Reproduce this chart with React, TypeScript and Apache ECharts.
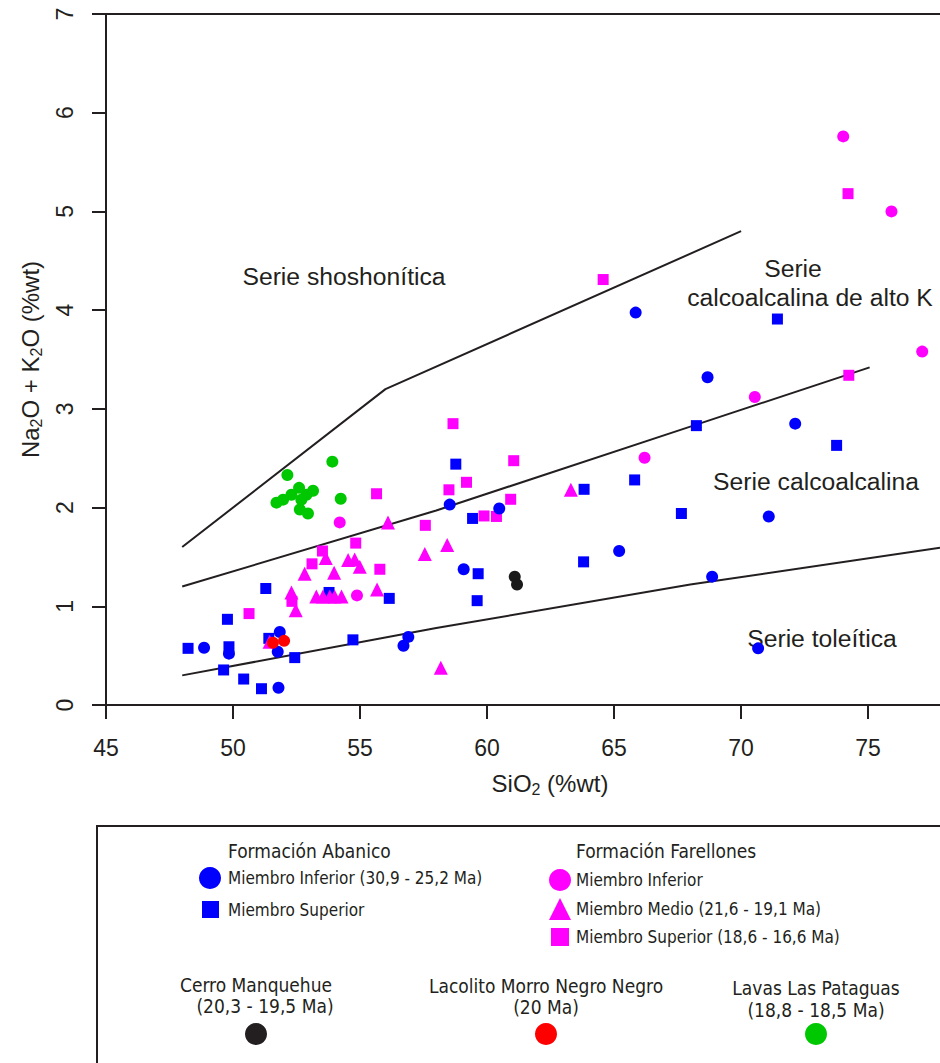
import React, { useEffect, useRef } from "react";
import * as echarts from "echarts";

const FONT = '"Liberation Sans", Arial, sans-serif';
const LFONT = '"DejaVu Sans Condensed", "Liberation Sans Narrow", sans-serif';
const INK = "#231f20";

const xTicks = [45, 50, 55, 60, 65, 70, 75];
const yTicks = [0, 1, 2, 3, 4, 5, 6, 7];

// Boundary lines [SiO2, Na2O+K2O]
const lineShoshonitic = [[48, 1.6], [56, 3.2], [70, 4.8]];
const lineHighK = [[48, 1.2], [58, 1.97], [68, 2.82], [75.06, 3.42]];
const lineTholeiitic = [[48, 0.3], [58, 0.78], [68, 1.22], [77.83, 1.594]];

// Formación Abanico
const abanicoInferior = [
  [48.86, 0.58], [49.84, 0.52], [51.84, 0.74], [51.76, 0.54], [51.79, 0.175],
  [56.71, 0.6], [56.9, 0.69], [58.53, 2.03], [60.48, 1.99], [59.08, 1.375],
  [65.2, 1.56], [65.85, 3.975], [68.68, 3.32], [72.13, 2.85], [71.09, 1.91],
  [68.86, 1.3], [70.67, 0.574],
];
const abanicoSuperior = [
  [48.23, 0.574], [49.78, 0.868], [49.84, 0.59], [49.63, 0.355], [50.42, 0.263],
  [51.12, 0.165], [51.29, 1.18], [51.41, 0.675], [52.43, 0.48], [54.72, 0.66],
  [56.15, 1.08], [53.78, 1.14], [58.77, 2.44], [59.43, 1.89], [59.65, 1.33],
  [59.61, 1.057], [63.82, 2.185], [63.8, 1.45], [65.81, 2.28], [67.65, 1.94],
  [68.24, 2.83], [71.43, 3.91], [73.76, 2.63],
];

// Formación Farellones
const farellonesInferior = [
  [54.2, 1.85], [54.88, 1.11], [66.2, 2.505], [70.54, 3.12], [77.13, 3.58],
  [74.02, 5.76], [75.92, 5.0],
];
const farellonesMedio = [
  [56.1, 1.85], [58.43, 1.62], [57.55, 1.53], [52.82, 1.33], [53.65, 1.49],
  [53.98, 1.34], [54.53, 1.47], [54.79, 1.475], [54.99, 1.4], [52.3, 1.14],
  [52.47, 0.96], [53.28, 1.1], [53.54, 1.1], [53.81, 1.1], [54.0, 1.1],
  [54.27, 1.1], [55.67, 1.17], [58.18, 0.378], [51.44, 0.64], [63.3, 2.18],
];
const farellonesSuperior = [
  [58.66, 2.85], [58.5, 2.18], [55.65, 2.14], [57.57, 1.82], [54.83, 1.64],
  [53.52, 1.56], [53.11, 1.43], [55.78, 1.375], [52.32, 1.05], [50.63, 0.926],
  [59.19, 2.256], [61.05, 2.475], [60.93, 2.084], [59.88, 1.915], [60.37, 1.91],
  [74.24, 3.34], [74.21, 5.18], [64.57, 4.31],
];

const cerroManquehue = [[61.09, 1.3], [61.18, 1.22]];
const lacolitoMorroNegro = [[51.57, 0.63], [52.01, 0.65]];
const lavasPataguas = [
  [52.14, 2.33], [53.91, 2.465], [54.24, 2.09], [51.71, 2.05], [51.97, 2.08],
  [52.3, 2.13], [52.6, 2.2], [52.89, 2.13], [53.15, 2.17], [52.69, 2.08],
  [52.63, 1.98], [52.95, 1.94],
];

const BLUE = "#0000ff";
const PINK = "#ff00ff";
const GREEN = "#00c800";
const RED = "#ff0000";
const BLACK = "#1a1a1a";

const lineSeries = (data: number[][]) => ({
  type: "line",
  data,
  symbol: "none",
  silent: true,
  lineStyle: { color: INK, width: 2 },
  z: 1,
});

const scatter = (name: string, data: number[][], symbol: string, size: number, color: string) => ({
  type: "scatter",
  name,
  data,
  symbol,
  symbolSize: size,
  itemStyle: { color, opacity: 1 },
  z: 3,
});

const legendItem = (name: string, icon: string, left: number, top: number, size: number, pad: number) => ({
  data: [{ name, icon }],
  left,
  top,
  padding: 0,
  itemWidth: size,
  itemHeight: size,
  selectedMode: false,
  textStyle: { fontFamily: LFONT, fontSize: 17, color: INK, padding: [0, 0, 0, pad] },
});

const axisTitleRich = {
  a: { fontFamily: FONT, fontSize: 24, color: INK, lineHeight: 28 },
  s: { fontFamily: FONT, fontSize: 16, color: INK, lineHeight: 17, verticalAlign: "bottom" },
};

export default function App() {
  const ref = useRef<HTMLDivElement>(null);
  useEffect(() => {
    if (!ref.current) return;
    const chart = echarts.init(ref.current, undefined, { renderer: "svg" });
    const txt = (text: string, x: number, y: number, size: number, font = FONT, align = "center") => ({
      type: "text",
      x,
      y,
      style: { text, fontFamily: font, fontSize: size, fill: INK, align, verticalAlign: "middle" },
    });
    chart.setOption({
      animation: false,
      backgroundColor: "#ffffff",
      grid: { left: 106, right: 0, top: 14, bottom: 358, containLabel: false },
      xAxis: [
        {
          type: "value",
          min: 45,
          max: 77.83,
          interval: 5,
          name: "{a|SiO}{s|2}{a| (%wt)}",
          nameLocation: "middle",
          nameGap: 64,
          nameTextStyle: { rich: axisTitleRich, padding: [0, 0, 0, 54] },
          axisLine: { show: true, lineStyle: { color: INK, width: 2 } },
          axisTick: { show: true, inside: false, length: 14, lineStyle: { color: INK, width: 2 }, customValues: xTicks },
          axisLabel: {
            customValues: xTicks,
            margin: 31,
            fontFamily: FONT,
            fontSize: 23,
            color: INK,
            formatter: (v: number) => (xTicks.includes(v) ? String(v) : ""),
          },
          splitLine: { show: false },
        },
        {
          type: "value",
          position: "top",
          min: 45,
          max: 77.83,
          axisLine: { show: true, lineStyle: { color: INK, width: 2 } },
          axisTick: { show: false },
          axisLabel: { show: false },
          splitLine: { show: false },
        },
      ],
      yAxis: {
        type: "value",
        min: 0,
        max: 7,
        interval: 1,
        name: "{a|Na}{s|2}{a|O + K}{s|2}{a|O (%wt)}",
        nameLocation: "middle",
        nameRotate: 90,
        nameGap: 62,
        nameTextStyle: { rich: axisTitleRich },
        axisLine: { show: true, lineStyle: { color: INK, width: 2 } },
        axisTick: { show: true, inside: false, length: 14, lineStyle: { color: INK, width: 2 } },
        axisLabel: {
          rotate: 90,
          margin: 30,
          fontFamily: FONT,
          fontSize: 23,
          color: INK,
          formatter: (v: number) => (yTicks.includes(v) ? String(v) : ""),
        },
        splitLine: { show: false },
      },
      legend: [
        legendItem("Miembro Inferior (30,9 - 25,2 Ma)", "circle", 199, 867, 22, 2),
        legendItem("Miembro Superior", "rect", 202, 901, 17, 4),
        legendItem("Miembro Inferior", "circle", 549, 869, 22, 0),
        legendItem("Miembro Medio (21,6 - 19,1 Ma)", "triangle", 549, 898, 22, 0),
        legendItem("Miembro Superior (18,6 - 16,6 Ma)", "rect", 551, 928, 18, 2),
      ],
      series: [
        lineSeries(lineShoshonitic),
        lineSeries(lineHighK),
        lineSeries(lineTholeiitic),
        scatter("Miembro Superior", abanicoSuperior, "rect", 11, BLUE),
        scatter("Miembro Medio (21,6 - 19,1 Ma)", farellonesMedio, "triangle", 14, PINK),
        scatter("Miembro Superior (18,6 - 16,6 Ma)", farellonesSuperior, "rect", 11, PINK),
        scatter("Miembro Inferior", farellonesInferior, "circle", 12, PINK),
        scatter("Miembro Inferior (30,9 - 25,2 Ma)", abanicoInferior, "circle", 12, BLUE),
        scatter("Lacolito Morro Negro Negro", lacolitoMorroNegro, "circle", 12, RED),
        scatter("Cerro Manquehue", cerroManquehue, "circle", 12, BLACK),
        scatter("Lavas Las Pataguas", lavasPataguas, "circle", 12, GREEN),
      ],
      graphic: [
        txt("Serie shoshonítica", 344, 276, 24.7),
        txt("Serie", 793, 268, 24.7),
        txt("calcoalcalina de alto K", 810, 297, 24.7),
        txt("Serie calcoalcalina", 816, 481, 24.7),
        txt("Serie toleítica", 822, 638, 24.7),
        {
          type: "rect",
          shape: { x: 97, y: 826, width: 900, height: 300 },
          style: { fill: "none", stroke: INK, lineWidth: 2 },
        },
        txt("Formación Abanico", 228, 851, 19, LFONT, "left"),
        txt("Formación Farellones", 576, 851, 19, LFONT, "left"),
        txt("Cerro Manquehue", 256, 985, 19, LFONT),
        txt("(20,3 - 19,5 Ma)", 265, 1006, 19, LFONT),
        txt("Lacolito Morro Negro Negro", 546, 986, 19, LFONT),
        txt("(20 Ma)", 546, 1007, 19, LFONT),
        txt("Lavas Las Pataguas", 816, 988, 19, LFONT),
        txt("(18,8 - 18,5 Ma)", 816, 1010, 19, LFONT),
        { type: "circle", shape: { cx: 256, cy: 1034, r: 11 }, style: { fill: INK } },
        { type: "circle", shape: { cx: 546, cy: 1034, r: 11 }, style: { fill: RED } },
        { type: "circle", shape: { cx: 816, cy: 1034, r: 11 }, style: { fill: GREEN } },
      ],
    });
    return () => chart.dispose();
  }, []);
  return (
    <div
      ref={ref}
      style={{ position: "absolute", left: 0, top: 0, width: 940, height: 1063, background: "#fff" }}
    />
  );
}
